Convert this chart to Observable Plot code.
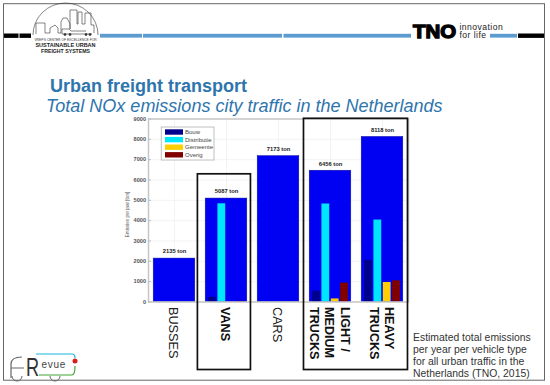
<!DOCTYPE html>
<html><head><meta charset="utf-8">
<script src="https://cdn.jsdelivr.net/npm/d3@7"></script>
<script src="https://cdn.jsdelivr.net/npm/@observablehq/plot@0.6"></script>
<style>
html,body{margin:0;padding:0;background:#fff}
#page{position:relative;width:550px;height:385px;overflow:hidden}
#page svg{position:absolute;left:0;top:0}
</style></head><body><div id="page"></div>
<script>
const vehicles = ["BUSSES","VANS","CARS","LIGHT /\nMEDIUM\nTRUCKS","HEAVY\nTRUCKS"];
const totals = [2135,5087,7173,6456,8118];
const totalLabels = ["2135 ton","5087 ton","7173 ton","6456 ton","8118 ton"];
const categories = ["Bouw","Distributie","Gemeente","Overig"];
const categoryColors = ["#00008f","#00e6ff","#ffcf00","#800000"];
const bouw = [0,230,0,530,2050];
const distributie = [0,4830,0,4820,4030];
const gemeente = [0,0,0,150,960];
const overig = [0,30,0,930,1040];
const yTicks = [0,1000,2000,3000,4000,5000,6000,7000,8000,9000];
const captionLines = ["Estimated total emissions","per year per vehicle type","for all urban traffic in the","Netherlands (TNO, 2015)"];
const boldLabel = [false,true,false,true,true];

const FONT = "Liberation Sans, Arial, sans-serif";
const totalRows = vehicles.map((v,i)=>({pos:i+1,label:v,total:totals[i],text:totalLabels[i],bold:boldLabel[i]}));
const groupRows = [bouw,distributie,gemeente,overig].flatMap((s,j)=>s.map((v,i)=>({pos:i+1,cat:j,v}))).filter(d=>d.v>0);
const offset = j => (j-1.5)*0.18;
const hw = 0.075;
const boxes = [{x1:1.45,x2:2.47,y1:-3345,y2:6280},{x1:3.49,x2:5.49,y1:-3345,y2:9010}];

const chart = Plot.plot({
  width:550,height:385,
  marginLeft:148,marginRight:142,marginTop:118.5,marginBottom:83.5,
  style:{fontFamily:FONT,background:"transparent",overflow:"visible"},
  x:{type:"linear",domain:[0.5,5.5],axis:null},
  y:{domain:[0,9000],axis:null},
  marks:[
    Plot.gridY(yTicks,{stroke:"#eeeeee",strokeOpacity:1,strokeWidth:0.7}),
    Plot.gridX([1,2,3,4,5],{stroke:"#eeeeee",strokeOpacity:1,strokeWidth:0.7}),
    Plot.rect(totalRows,{x1:d=>d.pos-0.4,x2:d=>d.pos+0.4,y1:()=>0,y2:"total",fill:"#0000f2",stroke:"#10109a",strokeWidth:0.5}),
    Plot.rect(groupRows,{x1:d=>d.pos+offset(d.cat)-hw,x2:d=>d.pos+offset(d.cat)+hw,y1:()=>0,y2:"v",fill:d=>categoryColors[d.cat]}),
    Plot.frame({stroke:"#c6c6c6",strokeWidth:1.5}),
    Plot.axisY(yTicks,{anchor:"left",label:null,tickSize:-3,tickPadding:5.5,stroke:"#bdbdbd",fontSize:5.6,fontWeight:"bold",color:"#555",tickFormat:d=>String(d)}),
    Plot.text(totalRows,{x:"pos",y:"total",text:"text",dy:-7,fontSize:5.8,fontWeight:"bold",fill:"#222"}),
    Plot.text(totalRows.filter(d=>!d.bold),{x:"pos",y:()=>0,text:"label",rotate:90,textAnchor:"start",lineAnchor:"middle",dy:5,fontSize:12.7,fill:"#222",lineHeight:1.25}),
    Plot.text(totalRows.filter(d=>d.bold),{x:"pos",y:()=>0,text:"label",rotate:90,textAnchor:"start",lineAnchor:"middle",dy:5,fontSize:12.6,fontWeight:"bold",fill:"#111",lineHeight:1.25}),
    Plot.rect(boxes,{x1:"x1",x2:"x2",y1:"y1",y2:"y2",fill:"none",stroke:"#111",strokeWidth:1.7})
  ]
});
document.getElementById("page").appendChild(chart);

const ov = d3.select("#page").append("svg").attr("width",550).attr("height",385).style("pointer-events","none").style("font-family",FONT);
ov.append("rect").attr("x",3.5).attr("y",3.7).attr("width",541).attr("height",376.5).attr("fill","none").attr("stroke","#666").attr("stroke-width",1);
const band=(x1,x2,c,h=3.8)=>ov.append("rect").attr("x",x1).attr("y",35.7-h/2).attr("width",x2-x1).attr("height",h).attr("fill",c);
band(4,18.5,"#000",4.4);band(19.5,31,"#000",4.4);
band(100,142,"#5b9bd0");band(143,282,"#5b9bd0");band(283.5,411,"#5b9bd0");band(490,517,"#5b9bd0");band(518,544,"#000",4.4);
const t=(x,y,s,size,opt={})=>ov.append("text").attr("x",x).attr("y",y).attr("font-size",size).attr("fill",opt.fill||"#222")
  .attr("font-weight",opt.weight||null).attr("font-style",opt.style||null).attr("text-anchor",opt.anchor||"start")
  .attr("letter-spacing",opt.ls||null).text(s);
t(50,91.5,"Urban freight transport",18,{weight:"bold",fill:"#2e75ad"});
t(46,111.5,"Total NOx emissions city traffic in the Netherlands",18,{style:"italic",fill:"#2e75ad"});
captionLines.forEach((l,i)=>t(413,341+12*i,l,10.4,{fill:"#333"}));
ov.append("text").attr("transform","translate(129,214.5) rotate(-90)").attr("text-anchor","middle").attr("font-size",4.6).attr("fill","#555").text("Emissies per jaar [ton]");
ov.append("rect").attr("x",161.3).attr("y",127).attr("width",52.7).attr("height",33).attr("fill","#fff").attr("stroke","#c0c0c0").attr("stroke-width",1);
categories.forEach((c,i)=>{
  const cy=132+7.6*i;
  ov.append("rect").attr("x",165).attr("y",cy-2.7).attr("width",18).attr("height",5.4).attr("fill",categoryColors[i]);
  t(185,cy+2,c,6,{fill:"#444"});
});
const lg=ov.append("g").attr("fill","none").attr("stroke","#333").attr("stroke-width",0.6);
lg.append("path").attr("d","M33 35A32.5 32 0 0 1 98 35");
lg.append("path").attr("d","M36 34V23H45V33H50V28L55 25 58 28V33H61V22L63 18 67 18 70 24V29M70 29V10H77V24H78V12H82V24H85V13H91V25H94V33");
lg.append("path").attr("d","M62 34V29H69L71 31H86M62 34H92");
[65,70,86,90].forEach(x=>lg.append("circle").attr("cx",x).attr("cy",34.5).attr("r",1.1).attr("fill","#333"));
t(65.5,40.5,"VREF'S CENTER OF EXCELLENCE FOR",3.3,{anchor:"middle",fill:"#333"});
t(65.5,47,"SUSTAINABLE URBAN",5.5,{anchor:"middle",weight:"bold",fill:"#222"});
t(65.5,53.2,"FREIGHT SYSTEMS",5.2,{anchor:"middle",weight:"bold",fill:"#222"});
ov.append("text").attr("x",413).attr("y",38).attr("font-size",19).attr("font-weight","bold").attr("fill","#000").attr("stroke","#000").attr("stroke-width",1.4)
  .attr("textLength",43).attr("lengthAdjust","spacingAndGlyphs").text("TNO");
t(459.5,29.5,"innovation",8.6,{fill:"#222",ls:0.45});
t(459.5,38,"for life",8.6,{fill:"#222",ls:0.45});
const fr=ov.append("g").attr("fill","none");
fr.append("path").attr("d","M11 378V364Q11 357 22 357M11 368H24").attr("stroke","#666").attr("stroke-width",1.2);
fr.append("path").attr("d","M36 354H72Q75 354 75 358").attr("stroke","#19b5e0").attr("stroke-width",1.2);
fr.append("path").attr("d","M39 375H72Q75 375 75 366").attr("stroke","#3fa535").attr("stroke-width",1.2);
fr.append("path").attr("d","M12 376A5 5 0 0 0 22 376M50 376A5 5 0 0 0 60 376").attr("stroke","#666").attr("stroke-width",1);
ov.append("text").attr("transform","translate(26,376) scale(0.7,1)").attr("font-size",26).attr("fill","#333").text("R");
t(41.5,368,"evue",10,{fill:"#444",ls:0.7});
ov.append("circle").attr("cx",75).attr("cy",361).attr("r",2.5).attr("fill","#d81e1e");
</script></body></html>
